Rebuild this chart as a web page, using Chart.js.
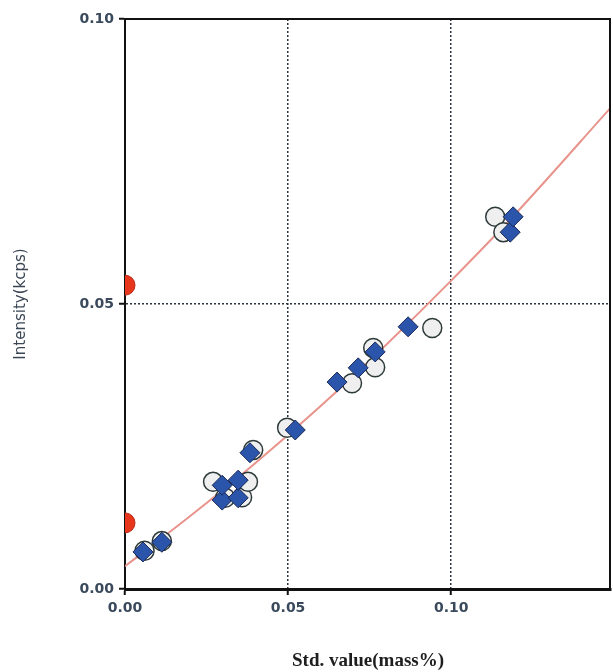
<!DOCTYPE html>
<html>
<head>
<meta charset="utf-8">
<title>Calibration curve</title>
<script src="https://cdn.jsdelivr.net/npm/chart.js@4/dist/chart.umd.min.js"></script>
<style>
  html, body { margin: 0; padding: 0; background: #ffffff; }
  canvas { display: block; }
</style>
</head>
<body>
<canvas id="cal" width="613" height="672"></canvas>
<script>
// Axis ticks
const xTicks = [0, 0.05, 0.10];
const yTicks = [0, 0.05, 0.10];

// Standards (open circles): std value vs. intensity
const stdX = [0.0060, 0.0113, 0.0270, 0.0307, 0.0359, 0.0377, 0.0393, 0.0497, 0.0696, 0.0767, 0.0761, 0.0942, 0.1135, 0.1160];
const stdY = [0.0067, 0.0084, 0.0188, 0.0160, 0.0161, 0.0188, 0.0244, 0.0283, 0.0361, 0.0389, 0.0423, 0.0458, 0.0653, 0.0626];

// Corrected points (filled diamonds)
const corrX = [0.0055, 0.0113, 0.0298, 0.0298, 0.0347, 0.0347, 0.0383, 0.0522, 0.0650, 0.0715, 0.0767, 0.0868, 0.1181, 0.1190];
const corrY = [0.0065, 0.0082, 0.0156, 0.0182, 0.0160, 0.0191, 0.0239, 0.0279, 0.0363, 0.0388, 0.0416, 0.0460, 0.0626, 0.0653];

// Points excluded from the fit (on the intensity axis)
const excludedX = [0, 0];
const excludedY = [0.0533, 0.0116];

// Calibration curve
const curveX = [0, 0.02, 0.04, 0.06, 0.08, 0.10, 0.12, 0.149];
const curveY = [0.0040, 0.0128, 0.0221, 0.0321, 0.0428, 0.0541, 0.0660, 0.0845];

const pts = (xs, ys) => xs.map((x, i) => ({ x: x, y: ys[i] }));

// Top and right frame of the plot
const frame = {
  id: 'frame',
  afterDraw(chart) {
    const { ctx, chartArea: a } = chart;
    ctx.save();
    ctx.strokeStyle = '#111111';
    ctx.lineWidth = 2;
    ctx.beginPath();
    ctx.moveTo(a.left, a.top);
    ctx.lineTo(a.right, a.top);
    ctx.moveTo(a.right - 1, a.top);
    ctx.lineTo(a.right - 1, a.bottom);
    ctx.stroke();
    ctx.restore();
  }
};

const tickFont = { family: 'DejaVu Sans', size: 14, weight: 'bold' };
const tickColor = '#3a4a5c';

new Chart(document.getElementById('cal'), {
  type: 'scatter',
  data: {
    datasets: [
      {
        label: 'corrected',
        data: pts(corrX, corrY),
        pointStyle: 'rectRot',
        pointRadius: 10,
        backgroundColor: '#2b55aa',
        borderColor: '#1b2a55',
        borderWidth: 1,
        order: 0
      },
      {
        label: 'standard',
        data: pts(stdX, stdY),
        pointStyle: 'circle',
        pointRadius: 9.5,
        backgroundColor: '#efefef',
        borderColor: '#2e3a3a',
        borderWidth: 1.5,
        order: 1
      },
      {
        label: 'excluded',
        data: pts(excludedX, excludedY),
        pointStyle: 'circle',
        pointRadius: 10,
        backgroundColor: '#e8361c',
        borderColor: '#b82a18',
        borderWidth: 1,
        clip: 0,
        order: 1
      },
      {
        label: 'curve',
        data: pts(curveX, curveY),
        showLine: true,
        pointRadius: 0,
        borderColor: '#e8948c',
        borderWidth: 2,
        cubicInterpolationMode: 'monotone',
        fill: false,
        order: 2
      }
    ]
  },
  options: {
    responsive: false,
    animation: false,
    layout: { autoPadding: false, padding: { top: 19, right: 2, left: 0, bottom: 0 } },
    plugins: { legend: { display: false }, tooltip: { enabled: false } },
    scales: {
      x: {
        type: 'linear',
        min: 0,
        max: 0.149,
        afterBuildTicks: s => { s.ticks = xTicks.map(v => ({ value: v })); },
        afterFit: s => { s.height = 83; s.paddingLeft = 0; s.paddingRight = 0; },
        ticks: {
          font: tickFont,
          color: tickColor,
          padding: 5,
          maxRotation: 0,
          callback: v => v.toFixed(2)
        },
        grid: {
          drawTicks: true,
          tickLength: 6,
          tickWidth: 2,
          tickColor: '#111111',
          lineWidth: 1.5,
          color: c => (c.tick && c.tick.value > 0.001) ? '#2a3440' : 'rgba(0,0,0,0)'
        },
        border: { display: true, color: '#111111', width: 3, dash: [2, 2] },
        title: {
          display: true,
          text: 'Std. value(mass%)',
          font: { family: 'Liberation Serif', size: 19, weight: 'bold' },
          color: '#1e1e1e',
          padding: { top: 0, bottom: 0 }
        }
      },
      y: {
        type: 'linear',
        min: 0,
        max: 0.10,
        afterBuildTicks: s => { s.ticks = yTicks.map(v => ({ value: v })); },
        afterFit: s => { s.width = 125; },
        ticks: {
          font: tickFont,
          color: tickColor,
          padding: 5,
          callback: v => v.toFixed(2)
        },
        grid: {
          drawTicks: true,
          tickLength: 6,
          tickWidth: 2,
          tickColor: '#111111',
          lineWidth: 1.5,
          color: c => (c.tick && Math.abs(c.tick.value - 0.05) < 0.001) ? '#2a3440' : 'rgba(0,0,0,0)'
        },
        border: { display: true, color: '#111111', width: 2, dash: [2, 2] },
        title: {
          display: true,
          text: 'Intensity(kcps)',
          font: { family: 'DejaVu Sans', size: 15 },
          color: '#3a4654',
          padding: { top: 12, bottom: 0 }
        }
      }
    }
  },
  plugins: [frame]
});
</script>
</body>
</html>
